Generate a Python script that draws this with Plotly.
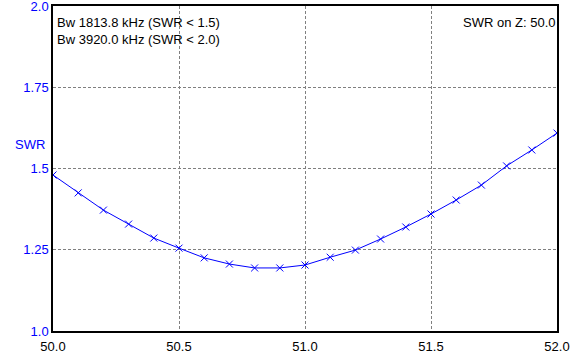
import plotly.graph_objects as go

freq_mhz = [50.0, 50.1, 50.2, 50.3, 50.4, 50.5, 50.6, 50.7, 50.8, 50.9, 51.0,
            51.1, 51.2, 51.3, 51.4, 51.5, 51.6, 51.7, 51.8, 51.9, 52.0]
swr = [1.480, 1.425, 1.372, 1.329, 1.286, 1.255, 1.225, 1.206, 1.194, 1.194, 1.203,
       1.227, 1.249, 1.283, 1.320, 1.360, 1.403, 1.449, 1.508, 1.557, 1.609]
x_ticks = [50.0, 50.5, 51.0, 51.5, 52.0]
x_tick_labels = ["50.0", "50.5", "51.0", "51.5", "52.0"]
y_ticks = [1.0, 1.25, 1.5, 1.75, 2.0]
y_tick_labels = ["1.0", "1.25", "1.5", "1.75", "2.0"]
info_left = ["Bw 1813.8 kHz (SWR < 1.5)", "Bw 3920.0 kHz (SWR < 2.0)"]
info_right = "SWR on Z: 50.0"

FONT = "Liberation Sans, Arial, sans-serif"
BLUE = "#0000ff"

fig = go.Figure()
fig.add_trace(go.Scatter(
    x=freq_mhz, y=swr, mode="lines+markers",
    line=dict(color=BLUE, width=1),
    marker=dict(symbol="x-thin", size=7, line=dict(color=BLUE, width=1), color=BLUE),
    hoverinfo="skip", showlegend=False,
))

fig.update_layout(
    width=585, height=361,
    margin=dict(l=53, r=28, t=6, b=30),
    paper_bgcolor="white", plot_bgcolor="white",
    font=dict(family=FONT, size=13, color="black"),
    xaxis=dict(
        range=[50.0, 52.0], tickvals=x_ticks, ticktext=x_tick_labels,
        showgrid=True, gridcolor="#808080", griddash="3px,2px", gridwidth=1,
        showline=True, linecolor="black", linewidth=1.5, mirror=True,
        zeroline=False, ticks="", tickfont=dict(color="black", size=13),
        ticklabelstandoff=3, automargin=False, ticklabeloverflow="allow",
    ),
    yaxis=dict(
        range=[1.0, 2.0], tickvals=y_ticks, ticktext=y_tick_labels,
        showgrid=True, gridcolor="#808080", griddash="3px,2px", gridwidth=1,
        showline=True, linecolor="black", linewidth=1.5, mirror=True,
        zeroline=False, ticks="", tickfont=dict(color=BLUE, size=13),
        automargin=False, ticklabeloverflow="allow",
    ),
)

for i, t in enumerate(info_left):
    fig.add_annotation(
        xref="paper", yref="paper", x=0, y=1, xanchor="left", yanchor="top",
        xshift=2, yshift=-7 - 17 * i, text=t, showarrow=False,
        font=dict(family=FONT, size=13, color="black"),
    )
fig.add_annotation(
    xref="paper", yref="paper", x=1, y=1, xanchor="right", yanchor="top",
    xshift=0, yshift=-7, text=info_right, showarrow=False,
    font=dict(family=FONT, size=13, color="black"),
)
fig.add_annotation(
    xref="paper", yref="paper", x=0, y=1, xanchor="left", yanchor="middle",
    xshift=-40, yshift=-138, text="SWR", showarrow=False,
    font=dict(family=FONT, size=13, color=BLUE),
)

fig.write_html("out.html", config={"displayModeBar": False},
               post_script="document.body.style.margin='0';")
